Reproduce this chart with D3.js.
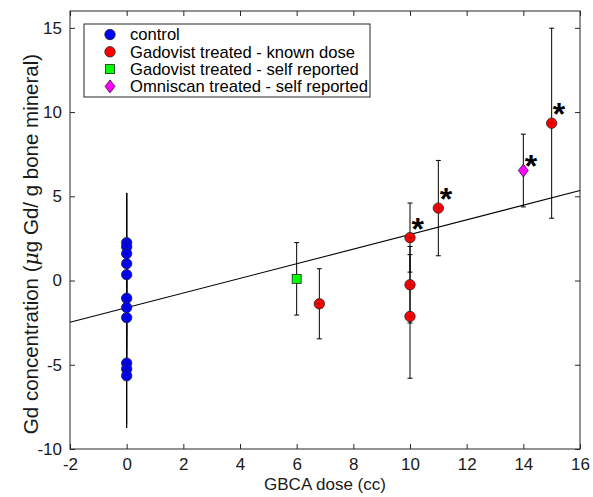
<!DOCTYPE html>
<html>
<head>
<meta charset="utf-8">
<script src="https://cdn.jsdelivr.net/npm/d3@7"></script>
<style>
	body { margin: 0; background: #fff; }
	svg { font-family: "Liberation Sans", Arial, Helvetica, sans-serif; }
</style>
</head>
<body>
<div id="chart"></div>
<script>
/**
 * Data
 */
// control group, all at dose 0
var controlY =   [2.25, 2.0, 1.6, 1.0, 0.35, -1.05, -1.6, -2.2, -4.9, -5.25, -5.65];
var controlErr = [2.95, 3.2, 3.6, 4.2, 4.85, 3.0, 3.0, 3.0, 3.6, 3.5, 3.1];

// Gadovist treated - known dose
var knownX =   [6.8, 10, 10, 10, 11, 15];
var knownY =   [-1.38, 2.55, -0.25, -2.13, 4.3, 9.34];
var knownErr = [2.08, 2.05, 2.27, 3.67, 2.83, 5.64];

// Gadovist treated - self reported
var selfX = [6];
var selfY = [0.1];
var selfErr = [2.15];

// Omniscan treated - self reported
var omniX = [14];
var omniY = [6.53];
var omniErr = [2.16];

// significance stars
var starX = [10.27, 11.27, 14.27, 15.26];
var starY = [3.5, 5.28, 7.2, 10.32];

// linear fit
var fitX = [-2, 16];
var fitY = [-2.48, 5.34];

var xTicks = [-2, 0, 2, 4, 6, 8, 10, 12, 14, 16];
var yTicks = [-10, -5, 0, 5, 10, 15];

var legendLabels = ["control", "Gadovist treated - known dose",
	"Gadovist treated - self reported", "Omniscan treated - self reported"];

/**
 * Layout
 */
var W = 593, H = 497;
var plot = { left: 70, right: 580, top: 11, bottom: 449 };
var axisColor = "#262626";
var tickLen = 5;
var markR = 5.2;

var svg = d3.select("#chart").append("svg")
	.attr("width", W).attr("height", H);

var x = d3.scaleLinear().domain([-2, 16]).range([plot.left, plot.right]);
var y = d3.scaleLinear().domain([-10, 16]).range([plot.bottom, plot.top]);

// plain hyphen for negatives, as in the original
var fmt = function(d) { return String(d); };

// Axes (ticks inside, box on)
function styleAxis(g) {
	g.select(".domain").remove();
	g.selectAll(".tick line").attr("stroke", axisColor);
	g.selectAll(".tick text").attr("fill", "#1a1a1a").style("font-size", "17px");
}
svg.append("g")
	.attr("transform", "translate(0," + plot.bottom + ")")
	.call(d3.axisBottom(x).tickValues(xTicks).tickSizeInner(-tickLen).tickSizeOuter(0).tickPadding(9).tickFormat(fmt))
	.call(styleAxis)
	.call(function(g) { g.selectAll(".tick text").attr("dy", "0.71em"); });
svg.append("g")
	.attr("transform", "translate(0," + plot.top + ")")
	.call(d3.axisTop(x).tickValues(xTicks).tickSizeInner(-tickLen).tickSizeOuter(0).tickFormat(""))
	.call(styleAxis);
svg.append("g")
	.attr("transform", "translate(" + plot.left + ",0)")
	.call(d3.axisLeft(y).tickValues(yTicks).tickSizeInner(-tickLen).tickSizeOuter(0).tickPadding(8).tickFormat(fmt))
	.call(styleAxis);
svg.append("g")
	.attr("transform", "translate(" + plot.right + ",0)")
	.call(d3.axisRight(y).tickValues(yTicks).tickSizeInner(-tickLen).tickSizeOuter(0).tickFormat(""))
	.call(styleAxis);

svg.append("rect")
	.attr("x", plot.left).attr("y", plot.top)
	.attr("width", plot.right - plot.left).attr("height", plot.bottom - plot.top)
	.attr("fill", "none").attr("stroke", axisColor).attr("stroke-width", 1);

// Axis labels
svg.append("text")
	.attr("x", (plot.left + plot.right) / 2).attr("y", 490)
	.attr("text-anchor", "middle").style("font-size", "17px").attr("fill", "#1a1a1a")
	.text("GBCA dose (cc)");
var yl = svg.append("text")
	.attr("transform", "translate(38,244) rotate(-90)")
	.attr("text-anchor", "middle").style("font-size", "20.5px").attr("fill", "#1a1a1a");
yl.append("tspan").text("Gd concentration (");
yl.append("tspan").style("font-family", "'DejaVu Serif', 'Liberation Serif', serif").style("font-style", "italic").text("μ");
yl.append("tspan").text("g Gd/ g bone mineral)");

// Fit line
svg.append("line")
	.attr("x1", x(fitX[0])).attr("y1", y(fitY[0]))
	.attr("x2", x(fitX[1])).attr("y2", y(fitY[1]))
	.attr("stroke", "#000").attr("stroke-width", 1.1);

// Error bars
function errorBars(xs, ys, errs, cap) {
	var g = svg.append("g").attr("stroke", "#000").attr("stroke-width", 1);
	xs.forEach(function(xv, i) {
		var cx = x(xv), y0 = y(ys[i] - errs[i]), y1 = y(ys[i] + errs[i]);
		g.append("line").attr("x1", cx).attr("x2", cx).attr("y1", y0).attr("y2", y1);
		if (cap) {
			[y0, y1].forEach(function(cy) {
				g.append("line").attr("x1", cx - cap).attr("x2", cx + cap).attr("y1", cy).attr("y2", cy);
			});
		}
	});
}
var controlX = controlY.map(function() { return 0; });
errorBars(controlX, controlY, controlErr, 0);
errorBars(knownX, knownY, knownErr, 2.5);
errorBars(selfX, selfY, selfErr, 2.5);
errorBars(omniX, omniY, omniErr, 2.5);

// Markers
function circles(xs, ys, color) {
	var g = svg.append("g");
	xs.forEach(function(xv, i) {
		var cx = x(xv), cy = y(ys[i]);
		g.append("circle").attr("cx", cx).attr("cy", cy).attr("r", markR)
			.attr("fill", color).attr("stroke", "#222").attr("stroke-width", 0.8);
		g.append("path").attr("d", "M" + (cx - 3.5) + "," + cy + "H" + (cx + 3.5) + "M" + cx + "," + (cy - 3.5) + "V" + (cy + 3.5))
			.attr("stroke", "#000").attr("stroke-opacity", 0.25).attr("stroke-width", 0.8);
	});
}
circles(controlX, controlY, "#0000ff");
circles(knownX, knownY, "#ff0000");

svg.append("g").selectAll("rect").data(selfX).join("rect")
	.attr("x", function(d) { return x(d) - 4.5; })
	.attr("y", function(d, i) { return y(selfY[i]) - 4.5; })
	.attr("width", 9).attr("height", 9)
	.attr("fill", "#00ff00").attr("stroke", "#222").attr("stroke-width", 0.8);

function diamondPath(cx, cy) {
	return "M" + cx + "," + (cy - 6.5) + "L" + (cx + 5) + "," + cy + "L" + cx + "," + (cy + 6.5) + "L" + (cx - 5) + "," + cy + "Z";
}
svg.append("g").selectAll("path").data(omniX).join("path")
	.attr("d", function(d, i) { return diamondPath(x(d), y(omniY[i])); })
	.attr("fill", "#ff00ff").attr("stroke", "#222").attr("stroke-width", 0.8);

// Stars
svg.append("g").selectAll("text").data(starX).join("text")
	.attr("x", function(d) { return x(d); })
	.attr("y", function(d, i) { return y(starY[i]) + 18; })
	.attr("text-anchor", "middle")
	.style("font-size", "32px").style("font-weight", "bold")
	.text("*");

// Legend
var legend = { x: 84, y: 24, w: 286, h: 73, rowH: 17.3, markX: 26, textX: 46 };
var lg = svg.append("g").attr("transform", "translate(" + legend.x + "," + legend.y + ")");
lg.append("rect").attr("width", legend.w).attr("height", legend.h)
	.attr("fill", "#fff").attr("stroke", axisColor).attr("stroke-width", 1);
legendLabels.forEach(function(label, i) {
	var cy = 10.5 + i * legend.rowH;
	var mx = legend.markX;
	if (i == 0 || i == 1) {
		lg.append("circle").attr("cx", mx).attr("cy", cy).attr("r", markR)
			.attr("fill", i == 0 ? "#0000ff" : "#ff0000").attr("stroke", "#222").attr("stroke-width", 0.8);
	} else if (i == 2) {
		lg.append("rect").attr("x", mx - 4.5).attr("y", cy - 4.5).attr("width", 9).attr("height", 9)
			.attr("fill", "#00ff00").attr("stroke", "#222").attr("stroke-width", 0.8);
	} else {
		lg.append("path").attr("d", diamondPath(mx, cy))
			.attr("fill", "#ff00ff").attr("stroke", "#222").attr("stroke-width", 0.8);
	}
	lg.append("text").attr("x", legend.textX).attr("y", cy).attr("dy", "0.35em")
		.style("font-size", "16.6px").attr("fill", "#000").text(label);
});
</script>
</body>
</html>
